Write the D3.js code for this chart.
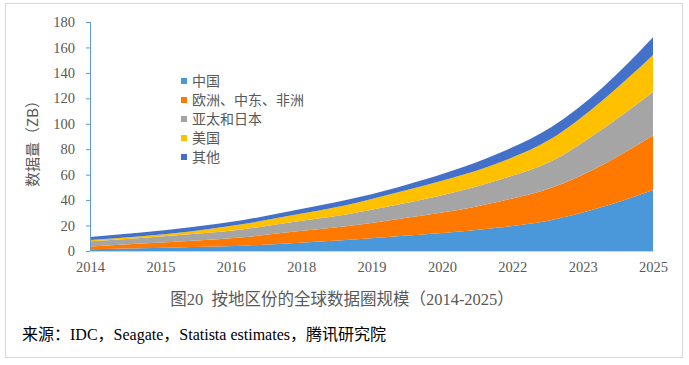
<!DOCTYPE html>
<html><head><meta charset="utf-8">
<script src="https://cdn.jsdelivr.net/npm/d3@7"></script>
<style>
html,body{margin:0;padding:0;background:#fff;}
svg{display:block;}
</style></head>
<body>
<svg id="c" width="689" height="365"></svg>
<script>
const years = [2014,2015,2016,2017,2018,2019,2020,2021,2022,2023,2024,2025];
const china = [1.3,2.2,3.2,4.2,6.3,8.7,11.6,14.5,18.5,24.2,34.5,48];
const emea  = [2.3,3.6,4.9,6.6,9.0,10.8,13.4,16.5,20.5,25.3,33.0,43];
const apj   = [4.0,4.4,5.2,6.3,7.7,9.2,11.3,14.0,17.0,20.8,28.0,34];
const usa   = [1.0,1.4,2.3,4.1,5.5,7.3,9.7,11.5,13.5,17.7,22.5,29];
const other = [2.4,2.9,3.2,3.2,3.5,4.0,4.0,5.5,7.5,9.0,10.0,14];
const seriesNames = ["中国","欧洲、中东、非洲","亚太和日本","美国","其他"];
const colors = ["#4A98DA","#FF7800","#A5A5A5","#FFC000","#4370C8"];
const xTickLabels = ["2014","2015","2016","2018","2019","2020","2022","2023","2025"];
const yTicks = [0,20,40,60,80,100,120,140,160,180];

const seriesVals = [china,emea,apj,usa,other];
const table = years.map((y,i)=>{const o={year:y}; seriesNames.forEach((n,k)=>o[n]=seriesVals[k][i]); return o;});

const svg = d3.select("#c");
const serif = "'Liberation Serif','Noto Sans CJK SC',serif";
const cjk = "'Noto Sans CJK SC','Liberation Serif',sans-serif";

svg.append("rect").attr("x",5.5).attr("y",3.5).attr("width",677).attr("height",354)
  .attr("fill","#fff").attr("stroke","#d9d9d9").attr("stroke-width",1);

const x = d3.scaleLinear().domain([2014,2025]).range([90,653]);
const y = d3.scaleLinear().domain([0,180]).range([251,22]);

const stack = d3.stack().keys(seriesNames)(table);
const area = d3.area().x(d=>x(d.data.year)).y0(d=>y(d[0])).y1(d=>y(d[1])).curve(d3.curveMonotoneX);

svg.append("g").selectAll("path").data(stack).join("path")
  .attr("d",area).attr("fill",(d,i)=>colors[i]);

// y axis
const yAxis = d3.axisLeft(y).tickValues(yTicks).tickSize(4).tickPadding(11);
const gy = svg.append("g").attr("transform","translate(90,0)").call(yAxis);
gy.select(".domain").attr("stroke","#5B9BD5").attr("d","M0.5,22V251");
gy.selectAll(".tick line").attr("stroke","#5B9BD5");
gy.selectAll(".tick text").attr("fill","#595959").style("font-family",serif).style("font-size","14.5px");

// x axis
const xTickVals = xTickLabels.map((l,i)=>2014 + i*(2025-2014)/(xTickLabels.length-1));
const xAxis = d3.axisBottom(x).tickValues(xTickVals).tickSize(0).tickPadding(11)
  .tickFormat((d,i)=>xTickLabels[i]);
const gx = svg.append("g").attr("transform","translate(0,251)").call(xAxis);
gx.select(".domain").attr("stroke","#BDD7EE").attr("d","M90,0.5H653");
gx.selectAll(".tick text").attr("fill","#595959").style("font-family",serif).style("font-size","14.5px");

// y title
svg.append("text").attr("transform","translate(38,140) rotate(-90)")
  .attr("text-anchor","middle").attr("fill","#595959")
  .style("font-family",cjk).style("font-size","15px").text("数据量（ZB）");

// legend
const lg = svg.append("g").attr("transform","translate(181,81)");
seriesNames.forEach((n,i)=>{
  const g = lg.append("g").attr("transform",`translate(0,${i*19})`);
  g.append("rect").attr("x",0).attr("y",-3).attr("width",6).attr("height",6).attr("fill",colors[i]);
  g.append("text").attr("x",11).attr("y",0).attr("dy","0.36em").attr("fill","#595959")
    .style("font-family",cjk).style("font-size","14px").text(n);
});

// caption
svg.append("text").attr("x",342).attr("y",305).attr("text-anchor","middle").attr("fill","#595959")
  .style("font-family",serif).style("font-size","16.5px").attr("xml:space","preserve")
  .text("图20  按地区份的全球数据圈规模（2014-2025）");
svg.append("text").attr("x",22).attr("y",340).attr("fill","#000")
  .style("font-family",serif).style("font-size","16px")
  .text("来源：IDC，Seagate，Statista estimates，腾讯研究院");
</script>
</body></html>
